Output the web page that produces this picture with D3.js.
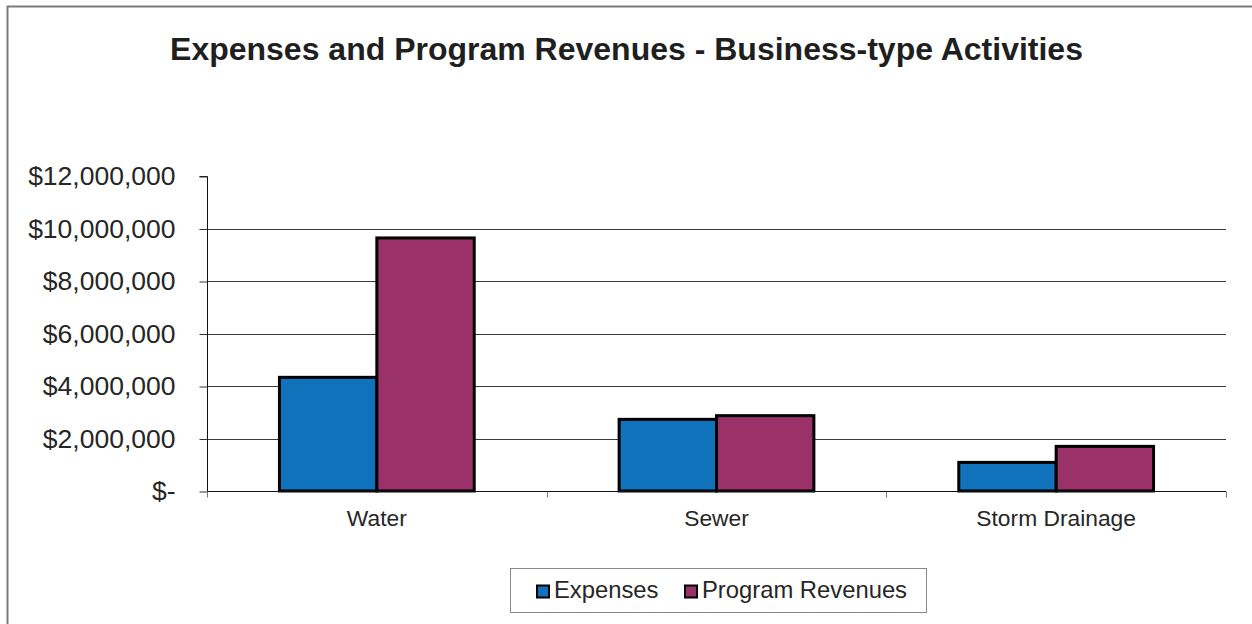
<!DOCTYPE html>
<html>
<head>
<meta charset="utf-8">
<script src="https://cdn.jsdelivr.net/npm/d3@7"></script>
<style>
  html, body { margin: 0; padding: 0; background: #fff; }
  svg { display: block; font-family: "Liberation Sans", Arial, sans-serif; }
</style>
</head>
<body>
<svg id="chart" width="1252" height="624"></svg>
<script>
// Business-type activities: expenses vs program revenues
const categories = ["Water", "Sewer", "Storm Drainage"];
const seriesNames = ["Expenses", "Program Revenues"];
const expenses = [4330000, 2730000, 1090000];
const programRevenues = [9640000, 2870000, 1700000];
const yTicks = [0, 2000000, 4000000, 6000000, 8000000, 10000000, 12000000];
const colors = ["#0f72bb", "#9a3169"];

const svg = d3.select("#chart");
const W = 1252, H = 624;
const plot = { left: 207, right: 1226, top: 176, bottom: 491 };

// outer chart frame
svg.append("rect")
  .attr("x", 7.5).attr("y", 6.5)
  .attr("width", W + 10).attr("height", H + 10)
  .attr("fill", "none").attr("stroke", "#7a7a7a").attr("stroke-width", 2);

// title
svg.append("text")
  .attr("x", 626.5).attr("y", 60)
  .attr("text-anchor", "middle")
  .attr("font-size", 32).attr("font-weight", "bold")
  .attr("fill", "#1f1f1f")
  .text("Expenses and Program Revenues - Business-type Activities");

const x = d3.scaleBand().domain(categories).range([plot.left, plot.right]).padding(0);
const y = d3.scaleLinear().domain([0, 12000000]).range([plot.bottom, plot.top]);

const fmt = v => v === 0 ? "$-" : "$" + d3.format(",")(v);

// horizontal gridlines (not at the top)
svg.append("g")
  .selectAll("line")
  .data(yTicks.filter(t => t > 0 && t < 12000000))
  .join("line")
  .attr("x1", plot.left).attr("x2", plot.right)
  .attr("y1", d => Math.round(y(d)) + 0.5).attr("y2", d => Math.round(y(d)) + 0.5)
  .attr("stroke", "#3a3a3a").attr("stroke-width", 1);

// y axis
const yAxis = d3.axisLeft(y).tickValues(yTicks).tickFormat(fmt).tickSize(8).tickPadding(24);
const gy = svg.append("g")
  .attr("transform", `translate(${plot.left + 0.5},0.5)`)
  .call(yAxis);
gy.select(".domain").attr("stroke", "#111").attr("d", `M-8,${plot.top}H0V${plot.bottom}`);
gy.selectAll(".tick line").attr("stroke", "#333");
gy.selectAll(".tick text")
  .attr("font-size", 26.5).attr("fill", "#262626")
  .attr("font-family", "Liberation Sans, Arial, sans-serif");

// bars
const x1 = d3.scaleBand().domain(seriesNames).range([0, x.bandwidth()]).paddingInner(0).paddingOuter(0.744);
const rows = categories.map((c, i) => ({ cat: c, vals: [expenses[i], programRevenues[i]] }));

const groups = svg.append("g").selectAll("g")
  .data(rows).join("g")
  .attr("transform", d => `translate(${x(d.cat)},0)`);

groups.selectAll("rect")
  .data(d => d.vals.map((v, j) => ({ name: seriesNames[j], v, j })))
  .join("rect")
  .attr("x", d => x1(d.name))
  .attr("width", x1.bandwidth())
  .attr("y", d => y(d.v))
  .attr("height", d => y(0) - y(d.v))
  .attr("fill", d => colors[d.j])
  .attr("stroke", "#000").attr("stroke-width", 3);

// x axis baseline and category ticks
const xAxisG = svg.append("g").attr("transform", `translate(0,${plot.bottom + 0.5})`);
xAxisG.append("line")
  .attr("x1", plot.left).attr("x2", plot.right)
  .attr("stroke", "#111").attr("stroke-width", 1);
const bounds = categories.map(c => x(c)).concat([x(categories[categories.length - 1]) + x.bandwidth()]);
xAxisG.selectAll("line.tick")
  .data(bounds).join("line").attr("class", "tick")
  .attr("x1", d => Math.round(d) + 0.5).attr("x2", d => Math.round(d) + 0.5)
  .attr("y1", 0).attr("y2", 6)
  .attr("stroke", "#777");
xAxisG.selectAll("text")
  .data(categories).join("text")
  .attr("x", d => x(d) + x.bandwidth() / 2)
  .attr("y", 34)
  .attr("text-anchor", "middle")
  .attr("font-size", 22.8).attr("fill", "#262626")
  .text(d => d);

// legend
const legend = svg.append("g");
legend.append("rect")
  .attr("x", 510.5).attr("y", 568.5).attr("width", 416).attr("height", 44)
  .attr("fill", "#fff").attr("stroke", "#888").attr("stroke-width", 1);
const legendItems = [{ name: seriesNames[0], x: 536 }, { name: seriesNames[1], x: 684 }];
legendItems.forEach((it, j) => {
  legend.append("rect")
    .attr("x", it.x + 1).attr("y", 585.5).attr("width", 12).attr("height", 12)
    .attr("fill", colors[j]).attr("stroke", "#000").attr("stroke-width", 2);
  legend.append("text")
    .attr("x", it.x + 18).attr("y", 598)
    .attr("font-size", 23.8).attr("fill", "#262626")
    .text(it.name);
});
</script>
</body>
</html>
